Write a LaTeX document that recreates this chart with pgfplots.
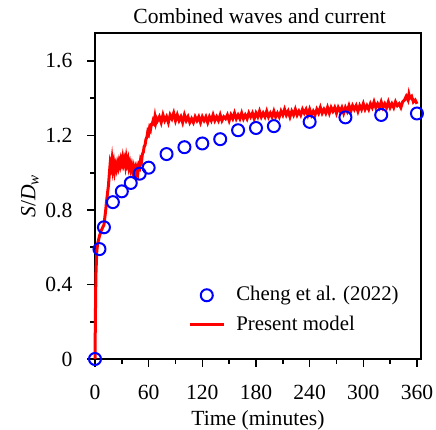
\documentclass[border=0pt]{standalone}
\usepackage{fontspec}
\setmainfont{Liberation Serif}
\usepackage{pgfplots}
\pgfplotsset{compat=1.18}
\begin{document}
\begin{tikzpicture}
\begin{axis}[
  scale only axis, width=163pt, height=163pt,
  xmin=0, xmax=364.5, ymin=0, ymax=1.75,
  clip=false,
  axis line style={line width=1pt},
  every tick/.style={black, line width=0.8pt},
  tick align=outside, major tick length=3.8pt, minor tick length=2.3pt,
  xtick={0,60,...,360}, ytick={0,0.4,...,1.6},
  minor xtick={30,90,...,330}, minor ytick={0.2,0.6,1.0,1.4},
  xtick pos=bottom, ytick pos=left,
  yticklabel style={/pgf/number format/fixed, /pgf/number format/precision=1, anchor=east, xshift=-4pt},
  xticklabel style={anchor=north, yshift=-5.5pt},
  /pgf/number format/assume math mode=true,
  tick label style={font=\fontsize{10.8}{12}\selectfont},
  xlabel={Time (minutes)},
  ylabel={\textit{S}/\textit{D}\textsubscript{\textit{w}}},
  label style={font=\fontsize{10.8}{12}\selectfont},
  xlabel style={at={(axis description cs:0.5,-0.2025)}, anchor=base},
  ylabel style={at={(axis description cs:-0.1994,0.5)}, anchor=center},
  every axis title shift=0pt,
  title={Combined waves and current},
  title style={font=\fontsize{10.8}{12}\selectfont, at={(axis description cs:0.505,1)}, anchor=base, yshift=5pt},
  legend style={at={(axis description cs:0.945,0.065)}, anchor=south east, draw=none, fill=none, font=\fontsize{10.4}{12}\selectfont, row sep=2pt, inner sep=0pt, /tikz/every odd column/.append style={column sep=3.5pt}},
  legend cell align=left,
]
\addplot[red, line width=1.5pt, forget plot] coordinates {
(0,0) (0.5,0.25) (1,0.45) (2,0.58) (3,0.62) (5,0.66) (7,0.69) (10,0.72) (12,0.80) (13,0.85) (15,0.93) (16,0.99) (17,1.05) (18,1.03) (19,1.07) (20,1.02) (21,1.05) (22,1.01) (23,1.04) (24,1.02) (25,1.05) (26,1.03) (27,1.06) (28,1.04) (29,1.07) (30,1.05) (31,1.08) (32,1.05) (33,1.07) (34,1.04) (35,1.08) (36,1.05) (37,1.07) (38,1.03) (39,1.05) (40,1.02) (41,1.04) (42,1.01) (43,1.03) (44,1.00) (45,1.02) (46,0.99) (47,1.02) (48,1.00) (49,1.04) (50,1.03) (51,1.07) (52,1.06) (53,1.10) (54,1.11) (55,1.14) (56,1.15) (57,1.18) (58,1.19) (59,1.22) (60,1.21) (61,1.24) (62,1.23) (63,1.26)
(64,1.26) (65,1.28) (66,1.27) (67,1.30) (68,1.27) (69,1.29) (70,1.28) (72,1.30) (74,1.27) (76,1.31) (78,1.28) (80,1.30) (82,1.27) (84,1.31) (86,1.29) (88,1.32) (90,1.28) (92,1.31) (94,1.28) (96,1.30) (98,1.27) (100,1.31) (102,1.28) (104,1.30) (106,1.27) (108,1.29) (110,1.27) (112,1.30) (114,1.28) (116,1.30) (118,1.27) (120,1.30) (122,1.28) (124,1.30) (126,1.27) (128,1.30) (130,1.28) (132,1.31) (134,1.28) (136,1.30) (138,1.28) (140,1.31) (142,1.28) (144,1.30) (146,1.29) (148,1.31) (150,1.28) (152,1.31) (154,1.29) (156,1.32) (158,1.29) (160,1.31) (162,1.29) (164,1.32) (166,1.29) (168,1.31) (170,1.29) (172,1.32) (174,1.30) (176,1.32) (178,1.29) (180,1.32) (182,1.30) (184,1.33) (186,1.30) (188,1.32) (190,1.30) (192,1.33) (194,1.30) (196,1.32) (198,1.30) (200,1.33) (202,1.30) (204,1.32) (206,1.30) (208,1.33) (210,1.31) (212,1.34) (214,1.31) (216,1.33) (218,1.30) (220,1.33) (222,1.31) (224,1.34) (226,1.31) (228,1.33) (230,1.31) (232,1.34) (234,1.32) (236,1.34) (238,1.31) (240,1.34) (242,1.31) (244,1.33) (246,1.31) (248,1.34) (250,1.32) (252,1.35) (254,1.32) (256,1.34) (258,1.32) (260,1.35) (262,1.32) (264,1.35) (266,1.33) (268,1.35) (270,1.32) (272,1.35) (274,1.33) (276,1.35) (278,1.32) (280,1.35) (282,1.33) (284,1.36) (286,1.33) (288,1.36) (290,1.34) (292,1.36) (294,1.33) (296,1.36) (298,1.34) (300,1.37) (302,1.34) (304,1.36) (306,1.34) (308,1.37) (310,1.35) (312,1.38) (314,1.35) (316,1.37) (318,1.35) (320,1.38) (322,1.35) (324,1.37) (326,1.35) (328,1.38) (330,1.35) (332,1.37) (334,1.35) (336,1.38) (338,1.36) (340,1.37) (342,1.35) (344,1.38) (346,1.39) (348,1.41) (350,1.39) (351,1.42) (352,1.40) (354,1.41) (356,1.38) (358,1.39) (360,1.37)
};
\addplot[only marks, mark=o, mark size=3pt, blue, mark options={line width=1pt}] coordinates {
(0,0) (5,0.59) (10,0.707) (20,0.842) (30,0.90) (40,0.945) (50,0.995) (60,1.027) (80,1.10) (100,1.137) (120,1.157) (140,1.18) (160,1.228) (180,1.24) (200,1.25) (240,1.273) (280,1.297) (320,1.31) (360,1.318)
};
\addlegendentry{Cheng et al. (2022)}
\addlegendimage{red, line width=1.5pt}
\addlegendentry{Present model}
\end{axis}
\pgfresetboundingbox
\path (-47.5pt,-35.5pt) rectangle (170.5pt,179.5pt);
\end{tikzpicture}
\end{document}
